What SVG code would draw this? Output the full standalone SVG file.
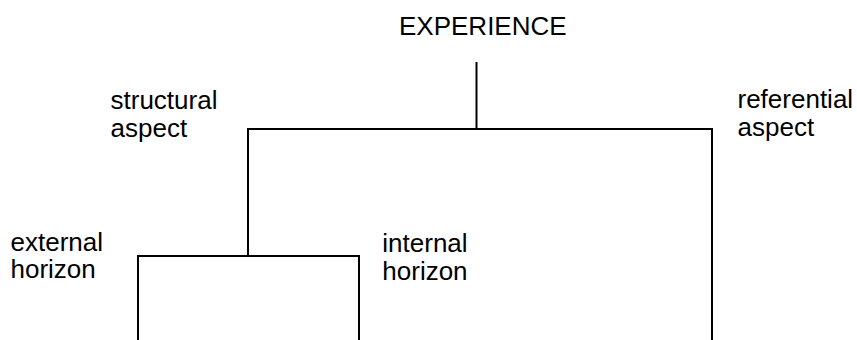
<svg xmlns="http://www.w3.org/2000/svg" width="857" height="340" viewBox="0 0 857 340">
<style>
text{font-family:"Liberation Sans",Arial,sans-serif;font-size:26px;fill:#000}
.c{stroke:#000;stroke-width:2;fill:none}
</style>
<rect width="857" height="340" fill="#fff"/>
<g id="connectors">
<path class="c" d="M476.5,62V129"/>
<path class="c" d="M248,256V129H712V340"/>
<path class="c" d="M138,340V256H359V340"/>
</g>
<g id="experience"><text x="399" y="35">EXPERIENCE</text></g>
<g id="structural"><text x="110.5" y="109">structural</text><text x="110.5" y="136.5">aspect</text></g>
<g id="referential"><text x="737.5" y="108">referential</text><text x="737.5" y="135.5">aspect</text></g>
<g id="external"><text x="10.5" y="250.5">external</text><text x="10.5" y="278">horizon</text></g>
<g id="internal"><text x="382.3" y="252">internal</text><text x="382.3" y="280">horizon</text></g>
</svg>
